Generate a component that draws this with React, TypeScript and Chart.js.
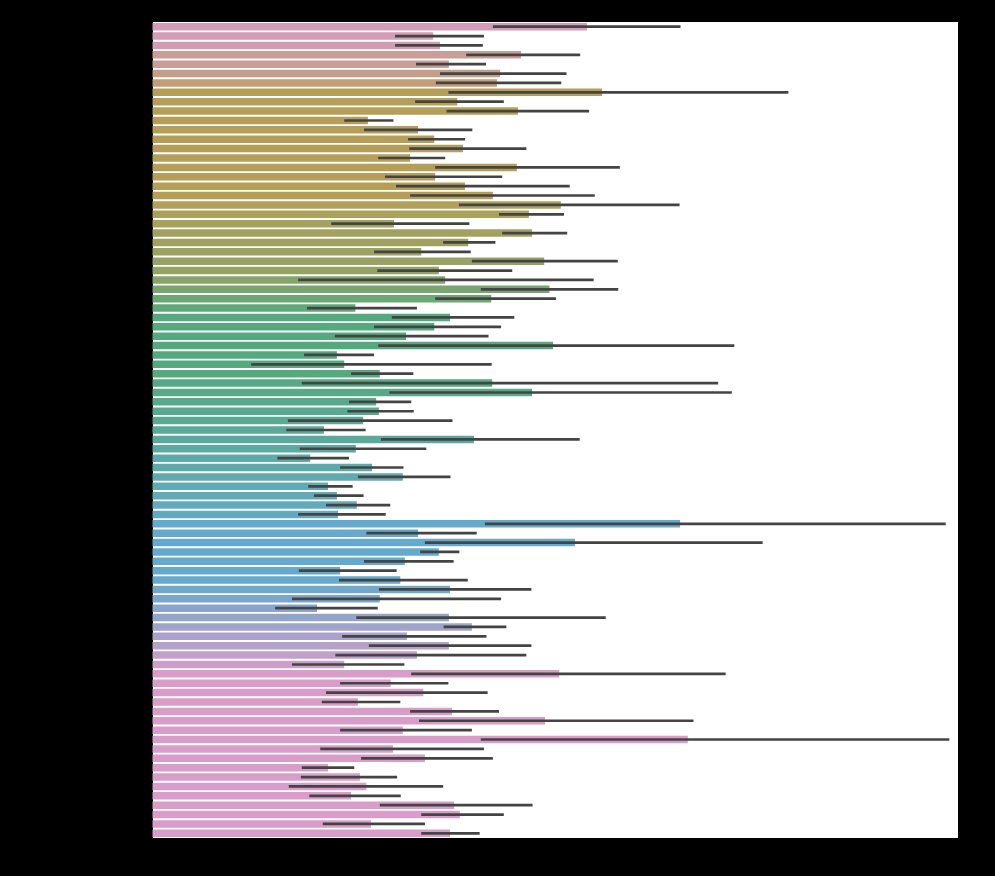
import { useEffect, useRef } from "react";
import { Chart, registerables } from "chart.js";

Chart.register(...registerables);

const chartTitle = "Listing Price in Neighbourhood";
const xAxisTitle = "price";
const yAxisTitle = "neighbourhood_cleansed";

const neighbourhoods = [
  "West Queen Anne", "Adams", "West Woodland", "East Queen Anne", "Wallingford",
  "North Queen Anne", "Green Lake", "Westlake", "Mann", "Madrona",
  "University District", "Harrison/Denny-Blaine", "Minor", "Leschi", "Atlantic",
  "Pike-Market", "Eastlake", "South Lake Union", "Lawton Park", "Briarcliff",
  "Belltown", "International District", "Central Business District", "First Hill", "Yesler Terrace",
  "Pioneer Square", "Gatewood", "Arbor Heights", "Alki", "North Admiral",
  "Crown Hill", "Fairmount Park", "Genesee", "Interbay", "Industrial District",
  "Mid-Beacon Hill", "South Beacon Hill", "Greenwood", "Holly Park", "Fauntleroy",
  "North Beacon Hill", "Mount Baker", "Brighton", "South Delridge", "View Ridge",
  "Dunlap", "Rainier Beach", "Columbia City", "Seward Park", "North Delridge",
  "Maple Leaf", "Ravenna", "Riverview", "Portage Bay", "Bryant",
  "Montlake", "Broadway", "Loyal Heights", "Victory Heights", "Matthews Beach",
  "Olympic Hills", "Cedar Park", "Haller Lake", "Pinehurst", "Meadowbrook",
  "North College Park", "Bitter Lake", "Broadview", "North Beach/Blue Ridge", "Sunset Hill",
  "Whittier Heights", "Phinney Ridge", "Fremont", "Stevens", "Windermere",
  "Wedgwood", "Southeast Magnolia", "Laurelhurst", "Lower Queen Anne", "Georgetown",
  "Madison Park", "Roosevelt", "South Park", "Roxhill", "High Point",
  "Highland Park", "Seaview",
];

const meanPrice = [
  190.8, 123.3, 126.3, 161.9, 130.2, 152.7, 151.3, 197.4, 133.9, 160.5,
  94.7, 116.7, 123.8, 136.4, 113.2, 160.0, 124.2, 137.3, 149.5, 179.3,
  165.3, 106.1, 166.7, 138.7, 118.1, 172.0, 125.8, 128.6, 174.3, 148.8,
  89.2, 130.7, 123.8, 111.4, 175.9, 81.1, 84.3, 99.9, 149.2, 166.7,
  98.3, 99.5, 92.6, 75.4, 141.2, 89.4, 69.4, 96.5, 110.0, 77.2,
  81.1, 89.8, 81.6, 231.6, 116.7, 185.5, 125.8, 110.9, 82.5, 108.9,
  130.7, 99.9, 72.4, 130.2, 140.3, 111.8, 130.2, 116.2, 84.3, 178.6,
  104.7, 119.0, 90.3, 131.6, 172.4, 110.0, 235.0, 105.7, 119.7, 77.2,
  91.2, 94.0, 87.3, 132.5, 135.0, 96.0, 130.7,
];

const ciLow = [
  149.5, 106.6, 106.6, 137.8, 115.8, 126.3, 124.5, 130.0, 115.4, 129.2,
  84.3, 93.0, 112.3, 112.8, 99.2, 124.2, 102.2, 107.0, 113.2, 134.6,
  152.2, 78.6, 153.6, 127.7, 97.4, 140.3, 98.8, 64.1, 144.2, 124.2,
  68.0, 105.2, 97.4, 80.2, 99.2, 66.7, 43.5, 87.3, 65.7, 104.1,
  86.4, 85.7, 59.6, 58.9, 100.4, 64.8, 55.0, 82.5, 90.3, 68.5,
  71.0, 76.3, 64.1, 146.0, 94.0, 119.7, 117.6, 93.0, 64.4, 82.0,
  99.5, 61.4, 54.0, 89.6, 127.9, 83.4, 95.1, 80.4, 61.4, 113.7,
  82.5, 76.3, 74.5, 113.2, 117.1, 82.5, 144.2, 73.8, 91.7, 65.7,
  65.3, 60.0, 69.0, 99.9, 118.1, 74.9, 118.1,
];

const ciHigh = [
  231.8, 145.6, 145.1, 187.8, 146.5, 181.8, 179.5, 279.1, 154.3, 191.7,
  105.9, 140.5, 137.3, 164.2, 128.6, 205.2, 153.6, 183.2, 194.2, 231.4,
  180.7, 139.2, 182.1, 150.6, 139.8, 204.3, 158.0, 193.7, 204.5, 177.2,
  116.2, 158.9, 153.1, 147.6, 255.4, 97.4, 149.0, 114.6, 248.3, 254.3,
  113.7, 114.8, 131.8, 93.7, 187.6, 120.3, 86.4, 110.3, 130.9, 88.0,
  92.8, 104.5, 102.5, 348.1, 142.4, 267.8, 134.8, 132.3, 107.3, 138.5,
  166.4, 153.1, 99.0, 199.0, 155.4, 146.7, 166.4, 164.2, 110.7, 251.6,
  130.0, 147.2, 108.9, 152.2, 237.5, 140.3, 349.7, 145.6, 149.5, 88.7,
  107.5, 127.7, 109.1, 166.9, 154.3, 119.7, 143.7,
];

const xTicks = [0, 50, 100, 150, 200, 250, 300, 350];

// ---- styling (colours only) ----
const PINK = [216, 157, 201];
const GOLD = [181, 159, 88];
const GREEN = [85, 169, 126];
const BLUE = [101, 170, 205];

function mix(a: number[], b: number[], t: number): number[] {
  return [0, 1, 2].map((k) => a[k] + (b[k] - a[k]) * t);
}

const colourStops: [number, number[]][] = [
  [0, mix(PINK, GOLD, 0.15)],
  [2, mix(PINK, GOLD, 0.2)],
  [3, mix(PINK, GOLD, 0.45)],
  [4, mix(PINK, GOLD, 0.45)],
  [6, mix(PINK, GOLD, 0.7)],
  [7, GOLD],
  [18, GOLD],
  [21, mix(GOLD, GREEN, 0.15)],
  [26, mix(GOLD, GREEN, 0.35)],
  [30, mix(GOLD, GREEN, 0.9)],
  [31, GREEN],
  [37, GREEN],
  [52, mix(GREEN, BLUE, 0.85)],
  [53, BLUE],
  [59, BLUE],
  [68, mix(BLUE, PINK, 0.9)],
  [69, PINK],
  [86, PINK],
];

function colourAt(i: number): string {
  for (let s = 0; s < colourStops.length - 1; s++) {
    const [r0, c0] = colourStops[s];
    const [r1, c1] = colourStops[s + 1];
    if (i >= r0 && i <= r1) {
      const t = r1 === r0 ? 0 : (i - r0) / (r1 - r0);
      const c = mix(c0, c1, t).map((v) => Math.round(v));
      return `rgb(${c[0]},${c[1]},${c[2]})`;
    }
  }
  return `rgb(${PINK.join(",")})`;
}

const barColours = neighbourhoods.map((_, i) => colourAt(i));

const FONT = "DejaVu Sans";

export default function App() {
  const ref = useRef<HTMLCanvasElement>(null);

  useEffect(() => {
    document.body.style.margin = "0";
    document.body.style.background = "#000";

    const backgroundPlugin = {
      id: "bg",
      beforeDraw(chart: any) {
        const { ctx, chartArea } = chart;
        ctx.save();
        ctx.fillStyle = "#000";
        ctx.fillRect(0, 0, chart.width, chart.height);
        ctx.fillStyle = "#fff";
        ctx.fillRect(
          chartArea.left,
          chartArea.top,
          chartArea.right - chartArea.left,
          chartArea.bottom - chartArea.top
        );
        ctx.restore();
      },
    };

    const errorBarPlugin = {
      id: "errbars",
      afterDatasetsDraw(chart: any) {
        const { ctx } = chart;
        const xs = chart.scales.x;
        const ys = chart.scales.y;
        ctx.save();
        ctx.strokeStyle = "#444444";
        ctx.lineWidth = 2.7;
        ctx.lineCap = "butt";
        for (let i = 0; i < neighbourhoods.length; i++) {
          const y = ys.getPixelForValue(i);
          ctx.beginPath();
          ctx.moveTo(xs.getPixelForValue(ciLow[i]), y);
          ctx.lineTo(xs.getPixelForValue(ciHigh[i]), y);
          ctx.stroke();
        }
        ctx.restore();
      },
    };

    const titlePlugin = {
      id: "ttl",
      afterDraw(chart: any) {
        const { ctx, chartArea } = chart;
        ctx.save();
        ctx.fillStyle = "#000";
        ctx.font = `12px "${FONT}"`;
        ctx.textAlign = "center";
        ctx.textBaseline = "middle";
        ctx.fillText(chartTitle, (chartArea.left + chartArea.right) / 2, 11);
        ctx.restore();
      },
    };

    const chart = new Chart(ref.current as HTMLCanvasElement, {
      type: "bar",
      data: {
        labels: neighbourhoods,
        datasets: [
          {
            data: meanPrice,
            backgroundColor: barColours,
            borderWidth: 0,
            categoryPercentage: 0.8,
            barPercentage: 1.0,
          },
        ],
      },
      options: {
        indexAxis: "y",
        responsive: false,
        devicePixelRatio: 1,
        animation: false,
        layout: { padding: { top: 22, right: 37, left: 0, bottom: 0 } },
        plugins: {
          legend: { display: false },
          tooltip: { enabled: false },
          title: { display: false },
        },
        scales: {
          x: {
            type: "linear",
            min: 0,
            max: 353.5,
            afterBuildTicks: (s: any) => {
              s.ticks = xTicks.map((v) => ({ value: v }));
            },
            ticks: {
              color: "#000",
              font: { family: FONT, size: 10 },
              padding: 2,
              maxRotation: 0,
            },
            grid: {
              display: true,
              drawOnChartArea: false,
              drawTicks: true,
              tickLength: 4,
              color: "#000",
            },
            border: { display: true, color: "#000" },
            title: {
              display: true,
              text: xAxisTitle,
              color: "#000",
              font: { family: FONT, size: 10 },
            },
            afterFit: (s: any) => {
              s.height = 38;
            },
          },
          y: {
            ticks: {
              color: "#000",
              autoSkip: false,
              font: { family: FONT, size: 10 },
              padding: 2,
            },
            grid: {
              display: true,
              drawOnChartArea: false,
              drawTicks: true,
              tickLength: 4,
              color: "#000",
            },
            border: { display: true, color: "#000" },
            title: {
              display: true,
              text: yAxisTitle,
              color: "#000",
              font: { family: FONT, size: 10 },
            },
            afterFit: (s: any) => {
              s.width = 152;
            },
          },
        },
      } as any,
      plugins: [backgroundPlugin, errorBarPlugin, titlePlugin],
    });

    return () => chart.destroy();
  }, []);

  return (
    <div
      style={{
        position: "absolute",
        left: 0,
        top: 0,
        width: 995,
        height: 876,
        background: "#000",
      }}
    >
      <canvas
        ref={ref}
        width={995}
        height={876}
        style={{ display: "block", width: 995, height: 876 }}
      />
    </div>
  );
}
